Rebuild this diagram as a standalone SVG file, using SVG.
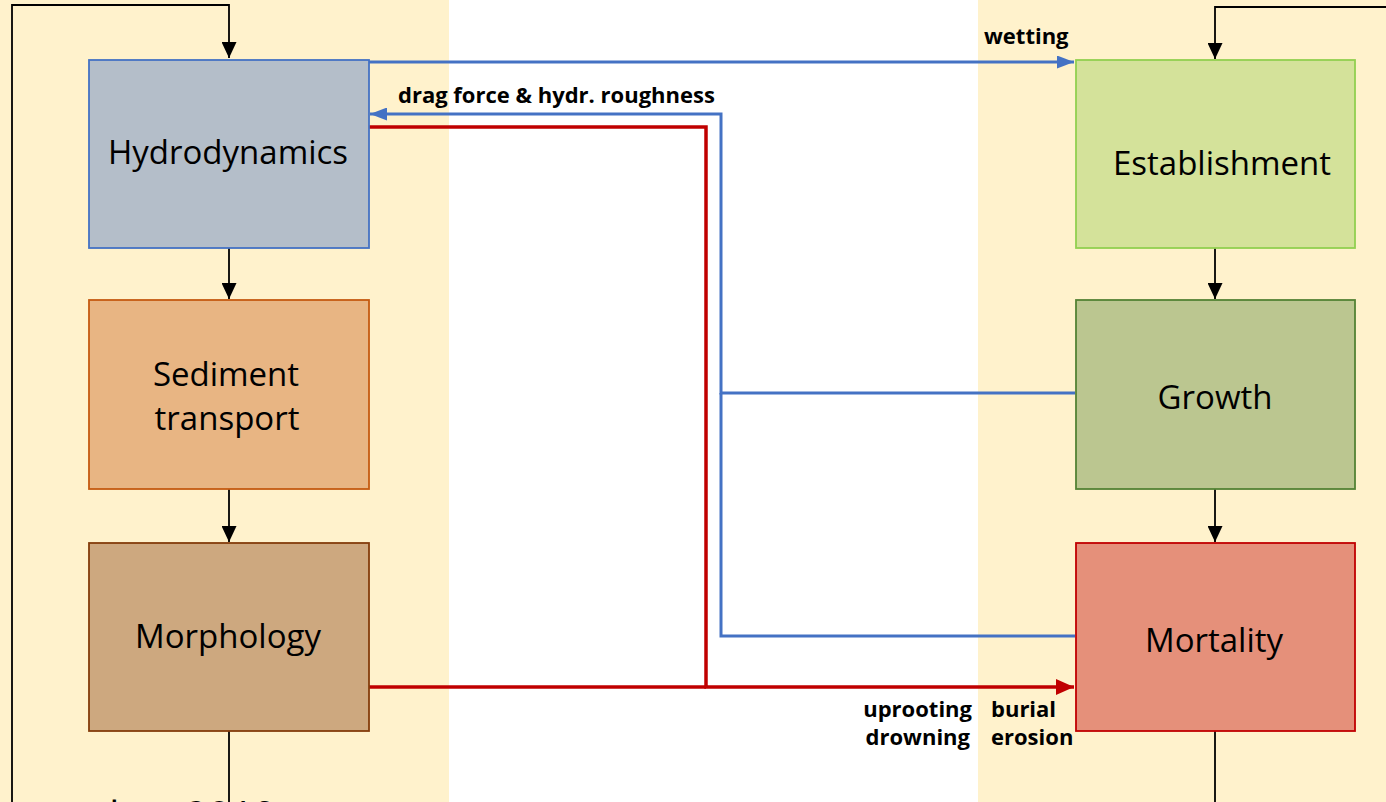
<svg xmlns="http://www.w3.org/2000/svg" width="1386" height="802" viewBox="0 0 1386 802">
<style>
.big{font-family:"Open Sans","Noto Sans","Liberation Sans",sans-serif;font-size:33px;fill:#000;text-anchor:middle}
.lbl{font-family:"Open Sans","Noto Sans","Liberation Sans",sans-serif;font-size:22px;font-weight:bold;fill:#000}
.blk{fill:none;stroke:#000;stroke-width:1.8}
.blu{fill:none;stroke:#4472C4;stroke-width:3}
.red{fill:none;stroke:#C00000;stroke-width:3.5}
.box{stroke-width:1.8}
</style>
<defs>
<marker id="ab" markerUnits="userSpaceOnUse" viewBox="0 0 16 15" refX="16" refY="7.5" markerWidth="16" markerHeight="15" orient="auto"><path d="M0,0 L16,7.5 L0,15 z" fill="#000"/></marker>
<marker id="au" markerUnits="userSpaceOnUse" viewBox="0 0 17 13" refX="17" refY="6.5" markerWidth="17" markerHeight="13" orient="auto"><path d="M0,0 L17,6.5 L0,13 z" fill="#4472C4"/></marker>
<marker id="ar" markerUnits="userSpaceOnUse" viewBox="0 0 18 16" refX="18" refY="8" markerWidth="18" markerHeight="16" orient="auto"><path d="M0,0 L18,8 L0,16 z" fill="#C00000"/></marker>
</defs>
<g id="background">
<rect x="0" y="0" width="1386" height="802" fill="#FFFFFF"/>
<rect x="0" y="0" width="449" height="802" fill="#FFF2CC"/>
<rect x="978" y="0" width="408" height="802" fill="#FFF2CC"/>
</g>
<g id="connectors">
<path class="blk" d="M12,802 L12,5 L229,5 L229,58" marker-end="url(#ab)"/>
<path class="blk" d="M1386,7 L1215,7 L1215,59" marker-end="url(#ab)"/>
<path class="blk" d="M229,248 L229,299" marker-end="url(#ab)"/>
<path class="blk" d="M229,489 L229,542" marker-end="url(#ab)"/>
<path class="blk" d="M229,731 L229,802"/>
<path class="blk" d="M1215,248 L1215,299" marker-end="url(#ab)"/>
<path class="blk" d="M1215,489 L1215,542" marker-end="url(#ab)"/>
<path class="blk" d="M1215,731 L1215,802"/>
<path class="blu" d="M369,62 L1074,62" marker-end="url(#au)"/>
<path class="blu" d="M1075,393 L721,393 L721,114 L370,114" marker-end="url(#au)"/>
<path class="blu" d="M1075,636 L721,636 L721,393"/>
<path class="red" d="M369,127 L706,127 L706,687 L1074,687" marker-end="url(#ar)"/>
<path class="red" d="M369,687 L706,687"/>
</g>
<g id="hydrodynamics">
<rect class="box" x="89" y="60" width="280" height="188" fill="#B4BEC9" stroke="#4472C4"/>
<text class="big" x="228" y="164">Hydrodynamics</text>
</g>
<g id="sediment-transport">
<rect class="box" x="89" y="300" width="280" height="189" fill="#E8B583" stroke="#C55A11"/>
<text class="big" x="226" y="386">Sediment</text>
<text class="big" x="227" y="430">transport</text>
</g>
<g id="morphology">
<rect class="box" x="89" y="543" width="280" height="188" fill="#CDA87F" stroke="#843C0C"/>
<text class="big" x="228" y="648">Morphology</text>
</g>
<g id="establishment">
<rect class="box" x="1076" y="60" width="279" height="188" fill="#D4E29A" stroke="#92D050"/>
<text class="big" x="1222" y="175">Establishment</text>
</g>
<g id="growth">
<rect class="box" x="1076" y="300" width="279" height="189" fill="#BBC690" stroke="#548235"/>
<text class="big" x="1215" y="409">Growth</text>
</g>
<g id="mortality">
<rect class="box" x="1076" y="543" width="279" height="188" fill="#E5907A" stroke="#C00000"/>
<text class="big" x="1214" y="652">Mortality</text>
</g>
<g id="labels">
<text class="lbl" x="984" y="44">wetting</text>
<text class="lbl" x="398" y="103">drag force &amp; hydr. roughness</text>
<text class="lbl" x="972" y="717" text-anchor="end">uprooting</text>
<text class="lbl" x="970" y="745" text-anchor="end">drowning</text>
<text class="lbl" x="991" y="717">burial</text>
<text class="lbl" x="991" y="745">erosion</text>
</g>
<g id="citation">
<text font-family="Open Sans, Noto Sans, sans-serif" font-size="40" fill="#000" x="40" y="830">et al. <tspan x="185">2019</tspan></text>
</g>
</svg>
